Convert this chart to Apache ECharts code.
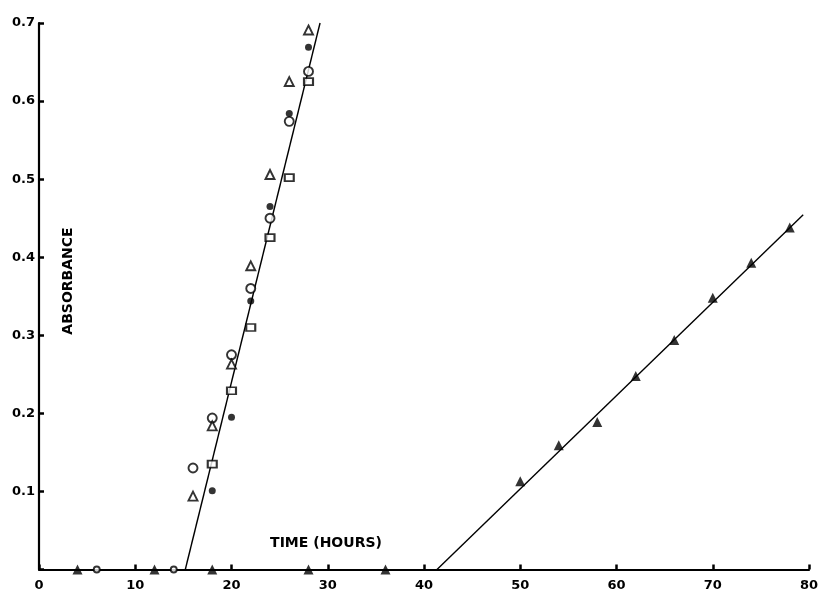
<!DOCTYPE html>
<html>
<head>
<meta charset="utf-8">
<script src="https://cdn.jsdelivr.net/npm/echarts@6/dist/echarts.min.js"></script>
<style>html,body{margin:0;padding:0;background:#fff;}#c{width:823px;height:595px;}</style>
</head>
<body>
<div id="c"></div>
<script>
// Data
const xTicks = [0, 10, 20, 30, 40, 50, 60, 70, 80];
const yTicks = [0.1, 0.2, 0.3, 0.4, 0.5, 0.6, 0.7];

const openCircles = [[16,0.130],[18,0.194],[20,0.275],[22,0.360],[24,0.450],[26,0.574],[28,0.638]];
const filledCircles = [[18,0.101],[20,0.195],[22,0.344],[24,0.465],[26,0.584],[28,0.669]];
const openTriangles = [[16,0.094],[18,0.184],[20,0.263],[22,0.389],[24,0.506],[26,0.625],[28,0.691]];
const openSquares = [[18,0.135],[20,0.229],[22,0.310],[24,0.425],[26,0.502],[28,0.625]];
const filledTriangles = [[50,0.113],[54,0.159],[58,0.189],[62,0.248],[66,0.294],[70,0.348],[74,0.393],[78,0.438]];

const baselineTriangles = [[4,0],[12,0],[18,0],[28,0],[36,0]];
const baselineCircles = [[6,0],[14,0]];

const fitLine1 = [[15.2,0],[29.2,0.70]];
const fitLine2 = [[41.35,0],[79.4,0.4545]];

const xTitle = 'TIME (HOURS)';
const yTitle = 'ABSORBANCE';

const chart = echarts.init(document.getElementById('c'));
const fontFam = '"DejaVu Sans", sans-serif';
const openStyle = {color:'#fff', borderColor:'#000', borderWidth:1.9};

chart.setOption({
  animation:false,
  backgroundColor:'#fff',
  grid:{left:39, right:14, top:23, bottom:25.5, containLabel:false},
  xAxis:{
    type:'value', min:0, max:80, interval:10,
    axisLine:{show:true, lineStyle:{color:'#000', width:2.2}},
    axisTick:{show:true, inside:true, length:5, lineStyle:{color:'#000', width:2.5}},
    axisLabel:{show:true, margin:10, color:'#000', fontFamily:fontFam, fontWeight:'bold', fontSize:13,
      formatter:v => xTicks.includes(v) ? String(v) : ''},
    splitLine:{show:false}
  },
  yAxis:{
    type:'value', min:0, max:0.7, interval:0.1,
    axisLine:{show:true, lineStyle:{color:'#000', width:2.2}},
    axisTick:{show:true, inside:true, length:5, lineStyle:{color:'#000', width:2.5}},
    axisLabel:{show:true, margin:4, color:'#000', fontFamily:fontFam, fontWeight:'bold', fontSize:13,
      formatter:v => { const t = yTicks.find(y => Math.abs(y-v)<1e-6); return t===undefined ? '' : t.toFixed(1); }},
    splitLine:{show:false}
  },
  graphic:[
    {type:'text', x:326, y:543, style:{text:xTitle, fill:'#000', font:'bold 14px "DejaVu Sans", sans-serif', align:'center', verticalAlign:'middle', textAlign:'center', textVerticalAlign:'middle'}},
    {type:'text', x:68, y:281, rotation:Math.PI/2, style:{text:yTitle, fill:'#000', font:'bold 14px "DejaVu Sans", sans-serif', align:'center', verticalAlign:'middle', textAlign:'center', textVerticalAlign:'middle'}}
  ],
  series:[
    {type:'line', data:fitLine1, symbol:'none', clip:false, lineStyle:{color:'#000', width:1.4}, z:1},
    {type:'line', data:fitLine2, symbol:'none', clip:false, lineStyle:{color:'#000', width:1.4}, z:1},
    {type:'scatter', data:openCircles, symbol:'circle', symbolSize:9, clip:false, itemStyle:openStyle, z:3},
    {type:'scatter', data:filledCircles, symbol:'circle', symbolSize:7, clip:false, itemStyle:{color:'#000'}, z:3},
    {type:'scatter', data:openTriangles, symbol:'triangle', symbolSize:9, clip:false, itemStyle:openStyle, z:3},
    {type:'scatter', data:openSquares, symbol:'rect', symbolSize:[9,7], clip:false, itemStyle:openStyle, z:3},
    {type:'scatter', data:filledTriangles, symbol:'triangle', symbolSize:10, clip:false, itemStyle:{color:'#000'}, z:3},
    {type:'scatter', data:baselineTriangles, symbol:'triangle', symbolSize:10, clip:false, itemStyle:{color:'#000'}, z:3},
    {type:'scatter', data:baselineCircles, symbol:'circle', symbolSize:6, clip:false, itemStyle:openStyle, z:3}
  ]
});
</script>
</body>
</html>
